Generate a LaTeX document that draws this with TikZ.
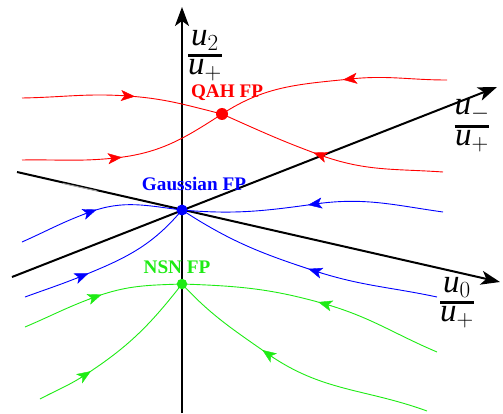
\RequirePackage{fix-cm}
\documentclass[tikz,border=0pt]{standalone}
\usepackage{fontspec}
\setmainfont{Liberation Serif}
\usepackage{amsmath}
\usetikzlibrary{arrows.meta,calc}
\definecolor{fpgreen}{RGB}{30,235,20}
\definecolor{fpred}{RGB}{255,0,0}
\definecolor{fpblue}{RGB}{0,0,255}
\tikzset{
  axisline/.style={line width=2pt, -{Stealth[length=19pt,width=14pt,inset=5pt]}},
  flowline/.style={line width=0.9pt},
  flowtip/.style={-{Stealth[length=14pt,width=11pt,inset=3.5pt]}},
  fpdot/.style={circle, fill, inner sep=0pt, minimum size=11pt},
  fplabel/.style={font=\bfseries\fontsize{19.2}{21}\selectfont, inner sep=0pt},
  axlabel/.style={font=\fontsize{33}{35}\selectfont, inner sep=0pt},
}
% #1 colour, #2 start, #3 out angle, #4 arrow point, #5 in angle at arrow,
% #6 travel angle at arrow, #7 fixed point, #8 in angle at fixed point
\newcommand\flowhalf[8]{%
  \draw[flowline,#1] (#2) to[out=#3,in=#5] (#4) to[out=#6,in=#8] (#7);
  \draw[flowtip,#1] ($(#4)+(#6:-7)$) -- ($(#4)+(#6:7)$);
}
\newcommand\ufrac[1]{$\genfrac{}{}{3pt}{1}{\textstyle\textit{u}_{#1}}{\textstyle\textit{u}_+}$}
\begin{document}
\begin{tikzpicture}[x=1pt,y=1pt]
\useasboundingbox (0,0) rectangle (503,413);
% fixed points
\coordinate (Q) at (222,299);
\coordinate (G) at (182,203);
\coordinate (N) at (182,129);
% axes ends
\coordinate (vb) at (182,0);
\coordinate (vt) at (182,406);
\coordinate (mb) at (12,136);
\coordinate (mt) at (497,326);
\coordinate (zb) at (17,241);
\coordinate (zt) at (500,131);
% flow end points and arrow points
\coordinate (r1s) at (22,315);  \coordinate (r1a) at (128,317);
\coordinate (r1e) at (443,241); \coordinate (r1b) at (320,258);
\coordinate (r2s) at (22,253);  \coordinate (r2a) at (115,255);
\coordinate (r2e) at (447,333); \coordinate (r2b) at (350,334);
\coordinate (b1s) at (22,171);  \coordinate (b1a) at (90,201);
\coordinate (b1e) at (443,201); \coordinate (b1b) at (315,209);
\coordinate (b2s) at (25,116);  \coordinate (b2a) at (82,137);
\coordinate (b2e) at (437,116); \coordinate (b2b) at (315,142);
\coordinate (g1s) at (25,86);   \coordinate (g1a) at (95,116);
\coordinate (g1e) at (437,61);  \coordinate (g1b) at (325,109);
\coordinate (g2s) at (40,14);   \coordinate (g2a) at (85,38);
\coordinate (g2e) at (427,2);   \coordinate (g2b) at (268,59);
% axes
\draw[axisline] (vb) -- (vt);
\draw[axisline] (mb) -- (mt);
\draw[axisline] (zb) -- (zt);
\coordinate (ga) at (63,229.5);
\coordinate (gb) at (97,222);
\draw[gray!70, line width=1pt] (ga) -- (gb);
% red flows
\flowhalf{fpred}{r1s}{1}{r1a}{176}{-4}{Q}{166}
\flowhalf{fpred}{r1e}{176}{r1b}{340}{160}{Q}{336}
\flowhalf{fpred}{r2s}{1}{r2a}{186}{6}{Q}{213}
\flowhalf{fpred}{r2e}{180}{r2b}{6}{186}{Q}{33}
% blue flows
\flowhalf{fpblue}{b1s}{24}{b1a}{200}{20}{G}{173}
\flowhalf{fpblue}{b1e}{172}{b1b}{8}{188}{G}{355}
\flowhalf{fpblue}{b2s}{20}{b2a}{202}{22}{G}{230}
\flowhalf{fpblue}{b2e}{168}{b2b}{342}{162}{G}{327}
% green flows
\flowhalf{fpgreen}{g1s}{23}{g1a}{200}{20}{N}{182}
\flowhalf{fpgreen}{g1e}{157}{g1b}{344}{164}{N}{358}
\flowhalf{fpgreen}{g2s}{28}{g2a}{213}{33}{N}{232}
\flowhalf{fpgreen}{g2e}{160}{g2b}{325}{145}{N}{313}
% fixed points
\node[fpdot, fpred, minimum size=12pt] (QAH) at (Q) {};
\node[fpdot, fpblue] (Gauss) at (G) {};
\node[fpdot, fpgreen, minimum size=10.5pt] (NSN) at (N) {};
% labels
\node[fplabel, text=fpred] (lq) at (227,320) {QAH FP};
\node[fplabel, text=fpblue] (lg) at (194,229) {Gaussian FP};
\node[fplabel, text=fpgreen] (ln) at (177,146) {NSN FP};
\node[axlabel] (l2) at (205,357) {\ufrac{2}};
\node[axlabel] (lm) at (472,287) {\ufrac{-}};
\node[axlabel] (l0) at (457,110) {\ufrac{0}};
\end{tikzpicture}
\end{document}
